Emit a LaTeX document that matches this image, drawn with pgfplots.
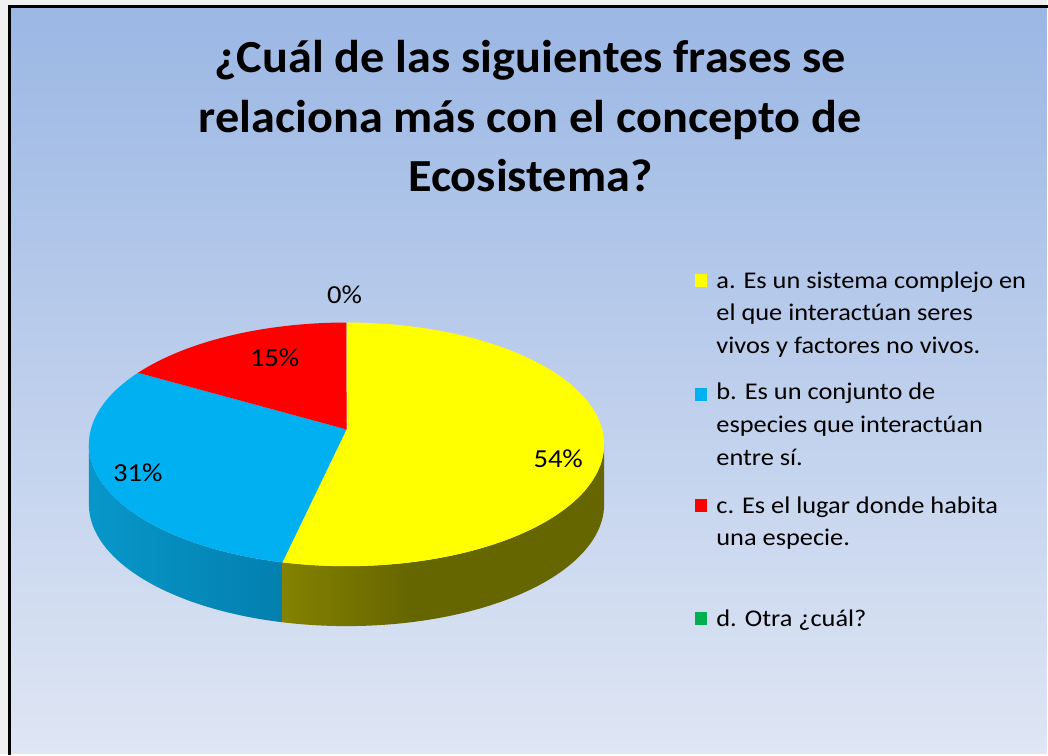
\documentclass[border=0pt]{standalone}
\usepackage{fontspec}
\setmainfont{Carlito}
\newfontfamily\titlefont{Carlito}[FakeStretch=1.05]
\newfontfamily\legfont{Carlito}[FakeStretch=1.1]
\usepackage{pgfplots}
\usepackage{pgfplotstable}
\pgfplotsset{compat=1.18}

\definecolor{bgtop}{HTML}{9BB7E4}
\definecolor{bgbot}{HTML}{DFE6F4}
\definecolor{pyel}{HTML}{FFFF00}
\definecolor{pblu}{HTML}{00B0F0}
\definecolor{pred}{HTML}{FF0000}
\definecolor{pgrn}{HTML}{00B050}
\definecolor{ys1}{HTML}{A9A500}
\definecolor{ys2}{HTML}{666600}
\definecolor{bs1}{HTML}{0AA2D8}
\definecolor{bs2}{HTML}{0074A0}
\pgfdeclarehorizontalshading{yellowside}{100bp}{color(0bp)=(ys1); color(45bp)=(ys2); color(100bp)=(ys2)}
\pgfdeclarehorizontalshading{blueside}{100bp}{color(0bp)=(bs1); color(100bp)=(bs2)}

\pgfplotstableread{
key value
a 54
b 31
c 15
d 0
}\piedata

\begin{document}
\begin{tikzpicture}
\pgfplotstablegetelem{0}{value}\of\piedata \let\va\pgfplotsretval
\pgfplotstablegetelem{1}{value}\of\piedata \let\vb\pgfplotsretval
\pgfplotstablegetelem{2}{value}\of\piedata \let\vc\pgfplotsretval
\pgfplotstablegetelem{3}{value}\of\piedata \let\vd\pgfplotsretval
\pgfmathsetmacro{\tot}{\va+\vb+\vc+\vd}
\pgfmathsetmacro{\aA}{90}
\pgfmathsetmacro{\aB}{\aA-360*(\va/\tot)}
\pgfmathsetmacro{\aC}{\aB-360*(\vb/\tot)}
\pgfmathsetmacro{\aD}{\aC-360*(\vc/\tot)}
\pgfmathsetmacro{\aE}{\aD-360*(\vd/\tot)}
\begin{axis}[
  width=524pt, height=377.5pt, scale only axis,
  xmin=0, xmax=1048, ymin=0, ymax=755,
  hide axis, clip=false,
]
% background
\fill[white!94!black] (axis cs:0,0) rectangle (axis cs:1048,755);
\shade[top color=bgtop, bottom color=bgbot] (axis cs:10,0) rectangle (axis cs:1048,748.5);
\draw[line width=1.5pt, line cap=rect] (axis cs:10,0) -- (axis cs:10,748.5) -- (axis cs:1048,748.5);

% title
\node[anchor=base, font=\titlefont\fontsize{23}{28}\selectfont\bfseries] at (axis cs:531,682) {¿Cuál de las siguientes frases se};
\node[anchor=base, font=\titlefont\fontsize{23}{28}\selectfont\bfseries] at (axis cs:531,622.5) {relaciona más con el concepto de};
\node[anchor=base, font=\titlefont\fontsize{23}{28}\selectfont\bfseries] at (axis cs:531,563) {Ecosistema?};

% sides of the pie
\shade[shading=blueside] ([shift={(-180:129pt and 61pt)}]axis cs:347,310)
  arc[start angle=-180, end angle=\aB, x radius=129pt, y radius=61pt]
  -- ++(0,-30pt)
  arc[start angle=\aB, end angle=-180, x radius=129pt, y radius=61pt] -- cycle;
\shade[shading=yellowside] ([shift={(\aB:129pt and 61pt)}]axis cs:347,310)
  arc[start angle=\aB, end angle=0, x radius=129pt, y radius=61pt]
  -- ++(0,-30pt)
  arc[start angle=0, end angle=\aB, x radius=129pt, y radius=61pt] -- cycle;

% top faces
\fill[pyel] (axis cs:347,325) -- ([shift={(\aA:129pt and 61pt)}]axis cs:347,310)
  arc[start angle=\aA, end angle=\aB, x radius=129pt, y radius=61pt] -- cycle;
\fill[pblu] (axis cs:347,325) -- ([shift={(\aB:129pt and 61pt)}]axis cs:347,310)
  arc[start angle=\aB, end angle=\aC, x radius=129pt, y radius=61pt] -- cycle;
\fill[pred] (axis cs:347,325) -- ([shift={(\aC:129pt and 61pt)}]axis cs:347,310)
  arc[start angle=\aC, end angle=\aD, x radius=129pt, y radius=61pt] -- cycle;

% data labels
\node[font=\legfont\fontsize{13}{16}\selectfont] at (axis cs:345,460) {\vd\%};
\node[font=\legfont\fontsize{13}{16}\selectfont] at (axis cs:275,397) {\vc\%};
\node[font=\legfont\fontsize{13}{16}\selectfont] at (axis cs:138,282) {\vb\%};
\node[font=\legfont\fontsize{13}{16}\selectfont] at (axis cs:559,296) {\va\%};

% legend
\fill[pyel] (axis cs:696,468) rectangle (axis cs:708,481);
\fill[pblu] (axis cs:696,353) rectangle (axis cs:708,366);
\fill[pred] (axis cs:696,242) rectangle (axis cs:708,255);
\fill[pgrn] (axis cs:696,129) rectangle (axis cs:708,142);
\begin{scope}[every node/.style={anchor=base west, inner sep=0pt, font=\legfont\fontsize{12}{14}\selectfont}]
\node at (axis cs:717,466) {a. Es un sistema complejo en};
\node at (axis cs:717,434) {el que interactúan seres};
\node at (axis cs:717,401) {vivos y factores no vivos.};
\node at (axis cs:717,355) {b. Es un conjunto de};
\node at (axis cs:717,322) {especies que interactúan};
\node at (axis cs:717,289) {entre sí.};
\node at (axis cs:717,241) {c. Es el lugar donde habita};
\node at (axis cs:717,209) {una especie.};
\node at (axis cs:717,128) {d. Otra ¿cuál?};
\end{scope}
\end{axis}
\end{tikzpicture}
\end{document}
